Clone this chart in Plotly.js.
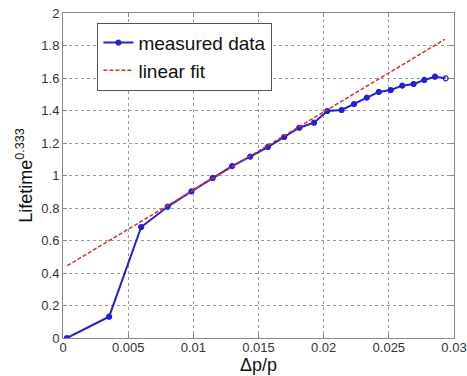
<!DOCTYPE html>
<html>
<head>
<meta charset="utf-8">
<script src="https://cdn.plot.ly/plotly-3.0.1.min.js"></script>
<style>html,body{margin:0;padding:0;background:#fff;}#chart{width:467px;height:376px;}</style>
</head>
<body>
<div id="chart"></div>
<script>
const measuredX = [0.0003, 0.00354, 0.0060, 0.00803, 0.00985, 0.01149, 0.01297, 0.01436, 0.01572, 0.01697, 0.01813, 0.01926, 0.02028, 0.02138, 0.02233, 0.02331, 0.02423, 0.02515, 0.02603, 0.0269, 0.02772, 0.02854, 0.02936];
const measuredY = [0.0, 0.131, 0.683, 0.808, 0.902, 0.985, 1.058, 1.116, 1.175, 1.237, 1.294, 1.325, 1.397, 1.403, 1.44, 1.479, 1.514, 1.526, 1.553, 1.563, 1.588, 1.608, 1.598];
const fitX = [0.00033, 0.0293];
const fitY = [0.445, 1.838];
const xTicks = [0, 0.005, 0.01, 0.015, 0.02, 0.025, 0.03];
const xTickLabels = ['0', '0.005', '0.01', '0.015', '0.02', '0.025', '0.03'];
const yTicks = [0, 0.2, 0.4, 0.6, 0.8, 1, 1.2, 1.4, 1.6, 1.8, 2];
const yTickLabels = ['0', '0.2', '0.4', '0.6', '0.8', '1', '1.2', '1.4', '1.6', '1.8', '2'];

const symbols = measuredX.map((_, i) => i === measuredX.length - 1 ? 'circle-open' : 'circle');

const traces = [
  {
    x: measuredX, y: measuredY, type: 'scatter', mode: 'lines+markers',
    name: 'measured data',
    line: {color: '#2222d0', width: 2},
    marker: {color: '#2222d0', size: 5, symbol: symbols, line: {color: '#2222d0', width: 1.2}}
  },
  {
    x: fitX, y: fitY, type: 'scatter', mode: 'lines',
    name: 'linear fit',
    line: {color: '#d83030', width: 1.5, dash: '4px,2px'}
  }
];

const axisCommon = {
  showline: true, linecolor: '#888', linewidth: 1, mirror: 'ticks',
  ticks: 'inside', ticklen: 4, tickcolor: '#888',
  showgrid: true, gridcolor: '#999', griddash: 'dot', gridwidth: 1,
  zeroline: false,
  tickfont: {family: 'Liberation Sans, Arial, sans-serif', size: 13, color: '#333'}
};

const layout = {
  width: 467, height: 376,
  margin: {l: 63, r: 13, t: 13, b: 38},
  paper_bgcolor: '#fff', plot_bgcolor: '#fff',
  showlegend: true,
  legend: {
    x: 0.088, y: 0.97, xanchor: 'left', yanchor: 'top',
    bgcolor: '#fff', bordercolor: '#555', borderwidth: 1,
    font: {family: 'Liberation Sans, Arial, sans-serif', size: 19, color: '#111'},
    tracegroupgap: 0
  },
  xaxis: Object.assign({}, axisCommon, {
    range: [0, 0.03], tickvals: xTicks, ticktext: xTickLabels,
    ticklabelstandoff: -3,
    title: {text: 'Δp/p', font: {family: 'Liberation Sans, Arial, sans-serif', size: 18, color: '#111'}, standoff: 4}
  }),
  yaxis: Object.assign({}, axisCommon, {
    range: [0, 2], tickvals: yTicks, ticktext: yTickLabels,
    title: {text: 'Lifetime<sup>0.333</sup>', font: {family: 'Liberation Sans, Arial, sans-serif', size: 18, color: '#111'}, standoff: 4}
  })
};

Plotly.newPlot('chart', traces, layout, {displayModeBar: false, staticPlot: true});
</script>
</body>
</html>
